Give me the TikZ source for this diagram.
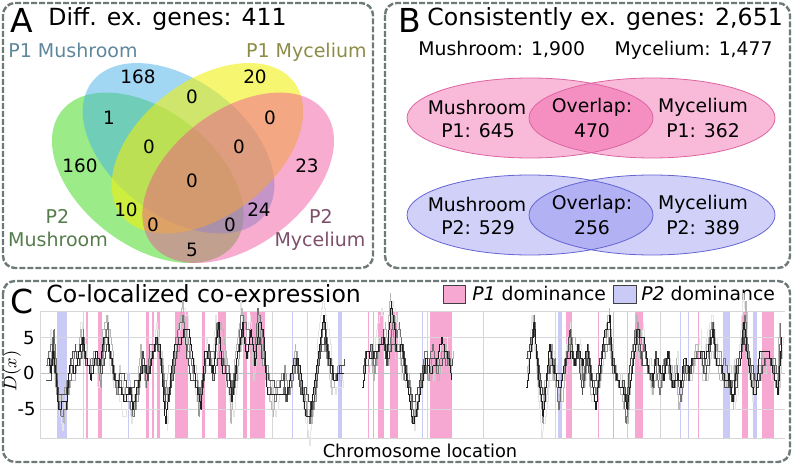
\documentclass[tikz,border=0pt]{standalone}
\usepackage{fontspec}
\setmainfont{DejaVu Sans}
\definecolor{boxgray}{RGB}{110,122,122}
\definecolor{vgreen}{RGB}{55,215,20}
\definecolor{vblue}{RGB}{70,175,232}
\definecolor{vyellow}{RGB}{242,240,10}
\definecolor{vpink}{RGB}{240,70,150}
\definecolor{lblA}{RGB}{95,135,155}
\definecolor{lblB}{RGB}{140,140,70}
\definecolor{lblC}{RGB}{85,125,75}
\definecolor{lblD}{RGB}{125,80,105}
\definecolor{bpink}{RGB}{240,80,160}
\definecolor{bpinkedge}{RGB}{220,100,160}
\definecolor{bblue}{RGB}{110,110,235}
\definecolor{bblueedge}{RGB}{100,100,210}
\definecolor{dompink}{RGB}{246,168,210}
\definecolor{domblue}{RGB}{202,202,246}
\definecolor{gridgray}{RGB}{215,215,215}
\tikzset{
  panelbox/.style={draw=boxgray, line width=1.2pt, dash pattern=on 3pt off 1pt, rounded corners=6pt},
  bigletter/.style={font=\fontsize{16.5}{17}\selectfont, inner sep=0, anchor=base west},
  titletext/.style={font=\fontsize{11.8}{13}\selectfont, inner sep=0, anchor=base west},
  vnum/.style={font=\fontsize{9.2}{10}\selectfont, inner sep=0},
  vlabel/.style={font=\fontsize{9.5}{10}\selectfont, inner sep=0},
  btext/.style={font=\fontsize{9.4}{10}\selectfont, inner sep=0},
  ticklbl/.style={font=\fontsize{9}{10}\selectfont, inner sep=0, anchor=east},
  curveline/.style={line width=0.42pt}
}
% #1 style, #2 amplitude factor, #3 x jitter, #4 list
\newcommand\swalk[4]{%
  \gdef\swfirst{1}%
  \foreach \xx/\yy in #4{%
    \pgfmathsetmacro\xn{\xx+(rnd-0.5)*2*#3}%
    \pgfmathtruncatemacro\yn{round(\yy*#2+(rnd-0.5)*4)}%
    \ifnum\swfirst=1
      \xdef\swpx{\xn}\xdef\swpy{\yn}\gdef\swfirst{0}%
    \else
      \pgfmathtruncatemacro\ns{abs(\yn-\swpy)}%
      \ifnum\ns=0
        \draw[curveline,#1] (\swpx,\swpy) -- (\xn,\swpy);%
      \else
        \pgfmathsetmacro\sdx{(\xn-\swpx)/\ns}%
        \pgfmathtruncatemacro\sg{sign(\yn-\swpy)}%
        \foreach \k in {1,...,\ns}{%
          \draw[curveline,#1] ({\swpx+(\k-1)*\sdx},{\swpy+(\k-1)*\sg}) -| ({\swpx+\k*\sdx},{\swpy+\k*\sg});%
        }%
      \fi
      \xdef\swpx{\xn}\xdef\swpy{\yn}%
    \fi
  }%
}
\def\segA{47/0,50/1,53/4,55/0,59/-4,62/-5,66/-3,70/0,74/2,78/3,82/5,86/2,90/1,95/2,100/0,104/4,107/6,111/2,115/-2,119/-1,124/-4,129/-3,133/-4,138/-1,142/2,146/0,151/3,156/5,161/1,166/-5,170/-1,175/3,179/5,183/8,187/5,191/1,196/-2,200/-4,205/1,209/3,213/1,218/5,223/2,228/-2,232/-4,237/2,242/7,246/4,250/5,254/2,259/7,263/3,268/-2,273/-4,278/-2,283/-1,287/-3,292/1,296/3,300/-2,305/-4,310/-7,315/-2,320/3,324/6,328/2,333/-1,338/0,343/0}
\def\segB{362/0,366/2,370/3,374/1,379/5,383/6,387/3,392/8,396/4,400/5,404/1,409/-3,413/-6,417/-4,421/0,425/2,429/0,433/2,437/1,441/3,445/2,449/1,452/1}
\def\segC{527/0,530/3,534/7,538/0,542/-6,546/-1,550/2,554/0,558/-3,562/-2,566/2,570/5,574/2,578/4,583/-1,587/3,591/-2,596/-3,600/1,605/5,609/7,613/2,618/-1,622/-2,627/-5,631/0,636/6,640/3,644/4,648/1,652/-1,656/1,660/-2,664/0,668/2,672/-1,676/1,680/-3,684/0,688/-1,692/1,696/3,700/4,704/1,708/3,712/6,716/3,720/1,724/0,728/0,732/-3,736/0,740/3,744/8,748/3,752/-2,756/-1,760/1,765/2,770/2,774/0,778/-2,781/5}
\begin{document}
\begin{tikzpicture}[x=0.5pt,y=-0.5pt]
\pgfmathsetseed{11}
\useasboundingbox (0,0) rectangle (793,465);
% ---------------- Panel A ----------------
\draw[panelbox] (3,3) rectangle (373,268);
\node[bigletter] (letA) at (10,33) {A};
\node[titletext] (titleA) at (48,26) {Diff. ex. genes: 411};
\begin{scope}[shift={(40.1,295.9)}, xscale=307.6, yscale=295.3]
  \fill[vgreen, opacity=0.5, rotate around={140:(0.35,-0.4)}] (0.35,-0.4) ellipse [x radius=0.36, y radius=0.225];
  \fill[vblue, opacity=0.5, rotate around={140:(0.45,-0.5)}] (0.45,-0.5) ellipse [x radius=0.36, y radius=0.225];
  \fill[vyellow, opacity=0.58, rotate around={40:(0.544,-0.5)}] (0.544,-0.5) ellipse [x radius=0.36, y radius=0.225];
  \fill[vpink, opacity=0.45, rotate around={40:(0.644,-0.4)}] (0.644,-0.4) ellipse [x radius=0.36, y radius=0.225];
\end{scope}
\node[vlabel, text=lblA, anchor=base west] (lP1Mu) at (8,58) {P1 Mushroom};
\node[vlabel, text=lblB, anchor=base east] (lP1My) at (367,58) {P1 Mycelium};
\node[vlabel, text=lblC, anchor=base] (lP2a) at (57.5,223) {P2};
\node[vlabel, text=lblC, anchor=base] (lP2Mu) at (58,247) {Mushroom};
\node[vlabel, text=lblD, anchor=base] (lP2b) at (321,223) {P2};
\node[vlabel, text=lblD, anchor=base] (lP2My) at (320,247) {Mycelium};
\node[vnum] (n168) at (138,77) {168};
\node[vnum] (n20) at (255,77) {20};
\node[vnum] (n0a) at (192,97) {0};
\node[vnum] (n1) at (109,118) {1};
\node[vnum] (n0b) at (270,118) {0};
\node[vnum] (n0c) at (149,147) {0};
\node[vnum] (n0d) at (239,147) {0};
\node[vnum] (n160) at (80,166) {160};
\node[vnum] (n23) at (307,166) {23};
\node[vnum] (n0e) at (192,181) {0};
\node[vnum] (n10) at (126,210) {10};
\node[vnum] (n24) at (259,210) {24};
\node[vnum] (n0f) at (153,225) {0};
\node[vnum] (n0g) at (230,225) {0};
\node[vnum] (n5) at (192,250) {5};
% ---------------- Panel B ----------------
\draw[panelbox] (385,3) rectangle (790,268);
\node[bigletter] (letB) at (398,33) {B};
\node[titletext] (titleB) at (427,26) {Consistently ex. genes: 2,651};
\node[btext, anchor=base west] (mushtot) at (418,56) {Mushroom: 1,900};
\node[btext, anchor=base east] (mycetot) at (773,56) {Mycelium: 1,477};
\fill[bpink, opacity=0.4] (530,118) ellipse [x radius=123, y radius=40];
\fill[bpink, opacity=0.4] (652,118) ellipse [x radius=123, y radius=40];
\draw[bpinkedge, line width=0.4pt] (530,118) ellipse [x radius=123, y radius=40];
\draw[bpinkedge, line width=0.4pt] (652,118) ellipse [x radius=123, y radius=40];
\fill[bblue, opacity=0.32] (530,215) ellipse [x radius=123, y radius=40];
\fill[bblue, opacity=0.32] (652,215) ellipse [x radius=123, y radius=40];
\draw[bblueedge, line width=0.4pt] (530,215) ellipse [x radius=123, y radius=40];
\draw[bblueedge, line width=0.4pt] (652,215) ellipse [x radius=123, y radius=40];
\node[btext] (bm1) at (477,107) {Mushroom};
\node[btext] (bm1n) at (478,131) {P1: 645};
\node[btext] (bo1) at (592,107) {Overlap:};
\node[btext] (bo1n) at (592,131) {470};
\node[btext] (by1) at (703,107) {Mycelium};
\node[btext] (by1n) at (703,131) {P1: 362};
\node[btext] (bm2) at (477,204) {Mushroom};
\node[btext] (bm2n) at (478,228) {P2: 529};
\node[btext] (bo2) at (592,204) {Overlap:};
\node[btext] (bo2n) at (592,228) {256};
\node[btext] (by2) at (703,204) {Mycelium};
\node[btext] (by2n) at (703,228) {P2: 389};
% ---------------- Panel C ----------------
\draw[panelbox] (3,281) rectangle (790,462);
\node[bigletter] (letC) at (10,313) {C};
\node[titletext] (titleC) at (46,302) {Co-localized co-expression};
\fill[dompink, draw=black!75, line width=0.5pt] (443,285) rectangle (465,303);
\node[btext, anchor=base west] (legP1) at (472,300) {\textit{P1} dominance};
\fill[domblue, draw=black!75, line width=0.5pt] (613,285) rectangle (636,303);
\node[btext, anchor=base west] (legP2) at (641,300) {\textit{P2} dominance};
\node[ticklbl] (t5) at (35,338) {5};
\node[ticklbl] (t0) at (35,373) {0};
\node[ticklbl] (tm5) at (36,409) {-5};
\node[rotate=90, inner sep=0, font=\fontsize{9.5}{10}\selectfont] (ylab) at (12,371) {$D(x)$};
\node[btext, font=\fontsize{8.9}{10}\selectfont] (xlab) at (420,451) {Chromosome location};
\begin{scope}[shift={(0,373)}, yscale=-7.2]
  % dominance bands
  \foreach \a/\b in {86/88,98/102,146/149,152/154,157/160,175/188,202/205,218/226,243/247,250/265,368/369,373/374,378/384,390/398,430/452,566/572,598/599,613/614,635/643,698/699,742/748,762/774}
    {\fill[dompink] (\a,-9.03) rectangle (\b,8.61);}
  \foreach \a/\b in {57/67,128/129,292/293,338/342,422/423,558/562,627/628,680/681,688/689,723/730,753/757}
    {\fill[domblue] (\a,-9.03) rectangle (\b,8.61);}
  % grid
  \foreach \gx in {83,272,307,427,483,555,660}
    {\draw[gridgray, line width=0.4pt] (\gx,-9.03) -- (\gx,8.61);}
  \foreach \gy in {-5,5,8.61,-9.03}
    {\draw[gridgray, line width=0.5pt] (40,\gy) -- (785,\gy);}
  \draw[black!25, line width=0.5pt] (40,0) -- (785,0);
  \draw[gridgray, line width=0.5pt] (40,-9.03) -- (40,8.61);
  % step curves
  \foreach \c/\f/\j in {black!10/1.3/2.5,black!18/0.7/2,black!28/1.15/2,black!40/0.9/1.5,black!55/1.05/1.5,black!70/0.8/1.2,black!88/1.0/1}{
    \swalk{\c}{\f}{\j}{\segA}
    \swalk{\c}{\f}{\j}{\segB}
    \swalk{\c}{\f}{\j}{\segC}
  }
\end{scope}
\end{tikzpicture}
\end{document}
